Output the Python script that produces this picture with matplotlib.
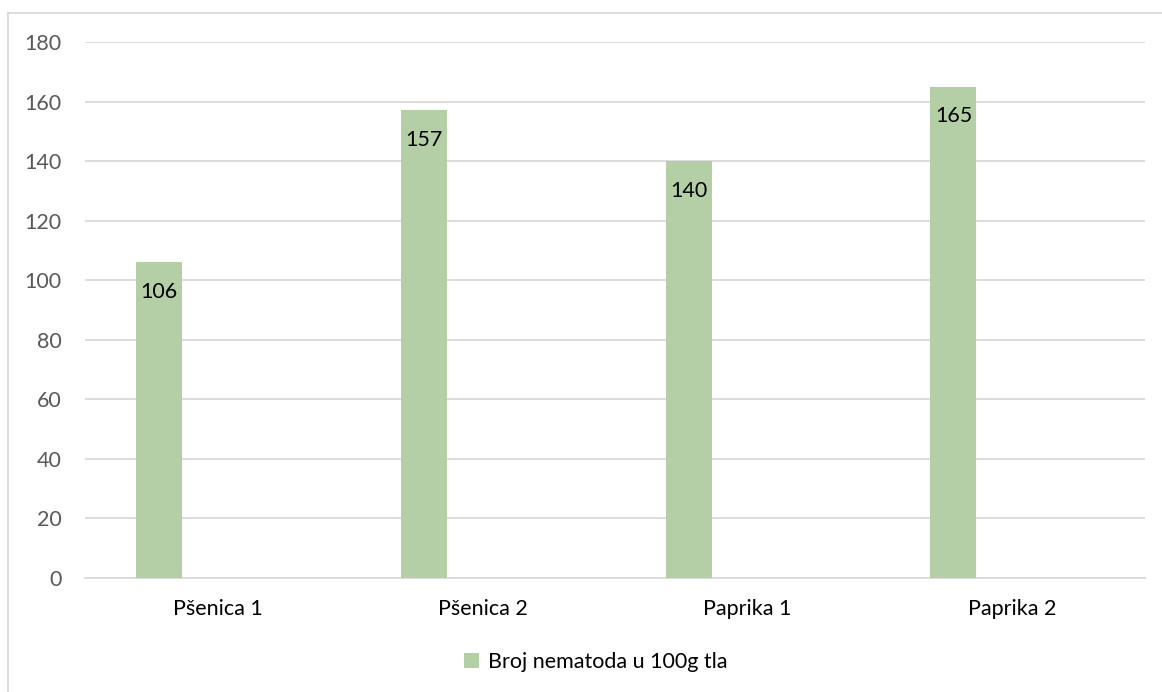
import numpy as np
from matplotlib import pyplot as plt
from matplotlib.lines import Line2D

categories = ['Pšenica 1', 'Pšenica 2', 'Paprika 1', 'Paprika 2']
values = [106, 157, 140, 165]
series_name = 'Broj nematoda u 100g tla'
yticks = [0, 20, 40, 60, 80, 100, 120, 140, 160, 180]

bar_color = '#b4cfa6'
grid_color = '#d9d9d9'
text_color = '#595959'
fs = 15.5

plt.rcParams['font.family'] = ['Lato', 'DejaVu Sans']

fig = plt.figure(figsize=(11.62, 6.92), dpi=100)
ax = fig.add_axes([85/1162, 1 - 578/692, (1145-85)/1162, (578-42)/692])

x = np.arange(len(categories))
offset = -59/265  # bars sit left of the category centre (empty second series)
bars = ax.bar(x + offset, values, width=46/265, color=bar_color,
              label=series_name, zorder=3)

for rect, v in zip(bars, values):
    ax.annotate(str(v), (rect.get_x() + rect.get_width()/2, v),
                xytext=(0, -14), textcoords='offset points',
                ha='center', va='top', fontsize=fs, color='black', zorder=4)

ax.set_xlim(-0.5, len(categories) - 0.5)
ax.set_ylim(0, 180)
ax.set_yticks(yticks)
ax.set_xticks(x)
ax.set_xticklabels(categories, fontsize=fs, color='black')
ax.tick_params(axis='y', labelsize=fs, labelcolor=text_color, length=0, pad=17)
ax.tick_params(axis='x', length=0, pad=15)
ax.yaxis.grid(True, color=grid_color, linewidth=1.3, zorder=0)
for s in ['top', 'right', 'left']:
    ax.spines[s].set_visible(False)
ax.spines['bottom'].set_color(grid_color)
ax.spines['bottom'].set_linewidth(1.3)
ax.spines['bottom'].set_zorder(2)

fig.legend(handles=[bars], labels=[series_name], loc='center',
           bbox_to_anchor=(596/1162, 1 - 662/692), frameon=False,
           fontsize=fs, handlelength=0.7, handleheight=0.7, handletextpad=0.4)

# chart border (top and left visible)
fig.add_artist(Line2D([8/1162, 1], [1 - 13/692, 1 - 13/692], color=grid_color,
                      linewidth=1.3, transform=fig.transFigure))
fig.add_artist(Line2D([8/1162, 8/1162], [0, 1 - 13/692], color=grid_color,
                      linewidth=1.3, transform=fig.transFigure))

plt.savefig('out.png', dpi=100)
